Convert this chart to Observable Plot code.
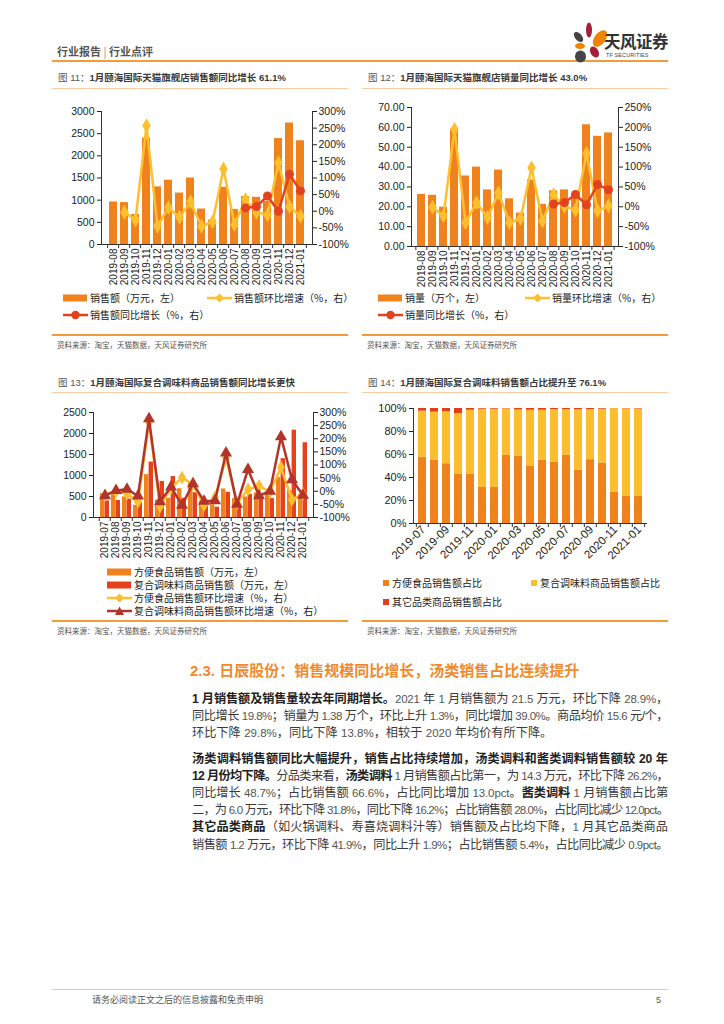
<!DOCTYPE html>
<html><head><meta charset="utf-8">
<script src="https://cdn.jsdelivr.net/npm/d3@7"></script>
<script src="https://cdn.jsdelivr.net/npm/@observablehq/plot@0.6"></script>
<style>
body{margin:0;background:#fff;}
#page{position:relative;width:724px;height:1024px;overflow:hidden;font-family:"Liberation Sans",Arial,"Noto Sans CJK SC",sans-serif;color:#333;}
.ln{position:absolute;left:192px;width:476px;height:17px;line-height:17px;font-size:12.2px;color:#3a3a3a;white-space:nowrap;text-align:justify;text-align-last:justify;font-family:"Liberation Sans","Noto Sans CJK SC",sans-serif;}
.ln.last{text-align-last:left;}
.ln b{color:#222;}
.ln .n{font-size:11.5px;color:#555;}
</style></head><body><div id="page"></div>
<script>
// ---------- DATA ----------
const months11 = ["2019-08","2019-09","2019-10","2019-11","2019-12","2020-01","2020-02","2020-03","2020-04","2020-05","2020-06","2020-07","2020-08","2020-09","2020-10","2020-11","2020-12","2021-01"];
const sales11 = [960, 945, 675, 2400, 1300, 1450, 1160, 1500, 800, 550, 1290, 790, 1080, 1065, 975, 2390, 2740, 2340];
const salesMoM11 = [null, -3, -26, 257, -45, 11, -18, 28, -45, -32, 127, -40, 35, -3, -11, 146, 14, -15];
const salesYoY11 = [null, null, null, null, null, null, null, null, null, null, null, null, 10, 14, 46, 0, 111, 61.1];

const months12 = months11;
const qty12 = [26.2, 25.8, 19.8, 59.0, 35.5, 40.0, 28.5, 38.5, 24.0, 16.8, 33.5, 21.2, 28.0, 28.5, 26.0, 61.3, 55.5, 57.2];
const qtyMoM12 = [null, -1, -23, 195, -40, 10, -27, 35, -40, -30, 98, -36, 30, 1, -8, 134, -10, 2];
const qtyYoY12 = [null, null, null, null, null, null, null, null, null, null, null, null, 7, 10.5, 31, 5, 56, 43.0];

const months13 = ["2019-07","2019-08","2019-09","2019-10","2019-11","2019-12","2020-01","2020-02","2020-03","2020-04","2020-05","2020-06","2020-07","2020-08","2020-09","2020-10","2020-11","2020-12","2021-01"];
const conv13 = [570, 545, 490, 290, 1020, 415, 455, 685, 850, 390, 300, 680, 450, 490, 590, 540, 950, 640, 550];
const comp13 = [395, 405, 440, 360, 1320, 860, 975, 460, 590, 365, 245, 600, 300, 550, 460, 450, 1400, 2080, 1780];
const convMoM13 = [-15, 0, -10, -40, 264, -58, 12, 52, 26, -53, -24, 127, -45, 7, 20, -2, 91, -32, -10];
const compMoM13 = [-17, 3, 8, -18, 276, -40, 16, -53, 29, -38, -36, 146, -50, 83, -17, 0, 208, 44, -15];

const months14 = months13;
const convShare14 = [57.6, 55.2, 52.0, 43.0, 43.0, 31.4, 31.4, 59.3, 58.4, 50.0, 55.2, 53.2, 59.3, 46.5, 55.5, 52.6, 27.3, 23.5, 23.5];
const compShare14 = [40.1, 41.6, 45.1, 52.6, 55.5, 68.0, 68.0, 40.4, 40.4, 48.5, 43.3, 45.9, 39.8, 52.6, 43.6, 46.8, 72.6, 76.2, 76.1];
const otherShare14 = [2.3, 3.2, 2.9, 4.4, 1.5, 0.6, 0.6, 0.3, 1.2, 1.5, 1.5, 0.9, 0.9, 0.9, 0.9, 0.6, 0.1, 0.3, 0.4];
const series14 = ["方便食品销售额占比", "复合调味料商品销售额占比", "其它品类商品销售额占比"];

const ticksL11 = [0, 500, 1000, 1500, 2000, 2500, 3000];
const ticksR11 = [-100, -50, 0, 50, 100, 150, 200, 250, 300];
const ticksL12 = [0, 10, 20, 30, 40, 50, 60, 70];
const ticksR12 = [-100, -50, 0, 50, 100, 150, 200, 250];
const ticksL13 = [0, 500, 1000, 1500, 2000, 2500];
const ticksR13 = [-100, -50, 0, 50, 100, 150, 200, 250, 300];
const ticks14 = [0, 20, 40, 60, 80, 100];

// ---------- STYLE ----------
const FONT = '"Liberation Sans", Arial, "Noto Sans CJK SC", sans-serif';
const ORANGE = "#F0821E", YELLOW = "#FDBF2D", RED = "#E2431E", DARKRED = "#B3342A", RED13 = "#E5421B", AX = "#333";
const C14 = [ORANGE, "#FCBE2E", "#E23E1C"];

const page = document.getElementById("page");
function el(css, html){ const e=document.createElement("div"); e.style.cssText="position:absolute;"+css; if(html!=null) e.innerHTML=html; page.appendChild(e); return e; }
function common(g){
  return {width:g.w, height:g.h, marginLeft:g.ml, marginRight:g.mr, marginTop:g.mt, marginBottom:g.mb,
    style:{fontFamily:FONT, fontSize:"10px", color:"#222", background:"transparent", overflow:"visible"}};
}
function xs(g, months, hide){ const o = {type:"band", domain:months, paddingInner:g.pi, paddingOuter:g.po}; if (hide) o.axis = null; return o; }
function step(g, n){ return (g.w-g.ml-g.mr)/(n - g.pi + 2*g.po); }
function boundaryTicks(months, g, ydom){
  const n = months.length, s = step(g, n);
  const t = (ydom[1]-ydom[0])*4/(g.h-g.mt-g.mb);
  return [
    Plot.ruleX(months, {x:d=>d, y1:ydom[0], y2:ydom[0]-t, dx:-s/2, stroke:AX}),
    Plot.ruleX([months[n-1]], {x:d=>d, y1:ydom[0], y2:ydom[0]-t, dx:s/2, stroke:AX})
  ];
}
function mount(g, svgs){
  const box = el(`left:${g.left}px;top:${g.top}px;width:${g.w}px;height:${g.h}px;`);
  for (const s of svgs){ s.style.position="absolute"; s.style.left="0"; s.style.top="0"; box.appendChild(s); }
}
const intFmt = d3.format("d");

// ---------- PAGE FRAME ----------
el("left:57px;top:43px;font-size:11px;font-weight:bold;color:#555;font-family:'Noto Sans CJK SC';line-height:16px;", '行业报告 <span style="font-weight:normal;color:#888">|</span> 行业点评');
el("left:52px;top:60px;width:616px;height:2px;background:#F39A3B;");
el("left:568px;top:18px;width:44px;height:46px;", `<svg width="44" height="46" viewBox="568 18 44 46">
<ellipse cx="589" cy="30" rx="3" ry="7.5" fill="#A61E37"/>
<ellipse cx="600" cy="38.5" rx="5.5" ry="9.5" fill="#F08300" transform="rotate(38 600 38.5)"/>
<ellipse cx="578.5" cy="37" rx="3.5" ry="6" fill="#444" transform="rotate(-40 578.5 37)"/>
<ellipse cx="580" cy="46" rx="5" ry="3" fill="#F08300"/>
<ellipse cx="594.5" cy="52" rx="4" ry="6" fill="#A61E37" transform="rotate(-30 594.5 52)"/>
<ellipse cx="580.5" cy="56.5" rx="5.5" ry="6" fill="#444"/></svg>`);
el("left:604px;top:30px;font-size:16.5px;font-weight:bold;color:#333;font-family:'Noto Sans CJK SC';line-height:22px;letter-spacing:-0.5px;", "天风证券");
el("left:606px;top:52px;font-size:5.5px;color:#444;line-height:7px;letter-spacing:0.1px;", "TF SECURITIES");

function panel(x, w, titleY, lineY, bottomY, title){
  el(`left:${x+6}px;top:${titleY-7}px;font-size:9.5px;font-weight:bold;color:#3a3a3a;line-height:14px;white-space:nowrap;font-family:'Liberation Sans','Noto Sans CJK SC';`, title);
  el(`left:${x}px;top:${lineY}px;width:${w}px;height:1px;background:#F8CBA0;`);
  el(`left:${x}px;top:${bottomY}px;width:${w}px;height:1.5px;background:#F39A3B;`);
  el(`left:${x+5}px;top:${bottomY+6}px;font-size:7.5px;color:#555;line-height:10px;white-space:nowrap;font-family:'Noto Sans CJK SC';`, "资料来源：淘宝，天猫数据，天风证券研究所");
}
panel(52, 296, 78, 88, 334, '<span style="font-weight:normal;color:#555">图 11：</span>1月颐海国际天猫旗舰店销售额同比增长 61.1%');
panel(362, 306, 78, 88, 334, '<span style="font-weight:normal;color:#555">图 12：</span>1月颐海国际天猫旗舰店销量同比增长 43.0%');
panel(52, 296, 383, 392, 620, '<span style="font-weight:normal;color:#555">图 13：</span>1月颐海国际复合调味料商品销售额同比增长更快');
panel(362, 306, 383, 392, 620, '<span style="font-weight:normal;color:#555">图 14：</span>1月颐海国际复合调味料销售额占比提升至 76.1%');

function swatch(type, color){
  if (type==="bar") return `<svg width="25" height="10" style="vertical-align:-1px"><rect x="0" y="1.5" width="24" height="7" fill="${color}"/></svg>`;
  if (type==="sq") return `<svg width="8" height="10" style="vertical-align:-1px"><rect x="0" y="2" width="6" height="6" fill="${color}"/></svg>`;
  let m = "";
  if (type==="diamond") m = `<path d="M12.5 0.5 L17 5 L12.5 9.5 L8 5Z" fill="${color}"/>`;
  if (type==="circle") m = `<circle cx="12.5" cy="5" r="4.2" fill="${color}"/>`;
  if (type==="tri") m = `<path d="M12.5 0.5 L17 9 L8 9Z" fill="${color}"/>`;
  return `<svg width="25" height="10" style="vertical-align:-1px"><line x1="0" x2="25" y1="5" y2="5" stroke="${color}" stroke-width="2.5"/>${m}</svg>`;
}
function legend(x, y, type, color, text, gap){
  el(`left:${x}px;top:${y-6}px;font-size:10px;color:#222;white-space:nowrap;line-height:12px;font-family:'Noto Sans CJK SC';`,
     `${swatch(type,color)}<span style="margin-left:${gap ?? 2}px">${text}</span>`);
}

// ---------- CHART 11 ----------
{
  const g = {left:52, top:100, w:296, h:196, ml:49, mr:36, mt:11, mb:52, pi:0.3, po:0.15};
  const d = months11.map((m,i)=>({m, v:sales11[i], mom:salesMoM11[i], yoy:salesYoY11[i]}));
  const L = Plot.plot({...common(g), x:xs(g, months11), y:{domain:[0,3000]},
    marks:[
      Plot.barY(d, {x:"m", y:"v", fill:ORANGE}),
      Plot.ruleY([0], {stroke:AX}),
      Plot.frame({anchor:"left", stroke:AX}),
      Plot.axisY({ticks:ticksL11, tickFormat:intFmt, label:null, tickSize:4, tickPadding:3, fontSize:10.5}),
      Plot.axisX({tickRotate:-90, label:null, tickSize:0, tickPadding:4, fontSize:10}),
      ...boundaryTicks(months11, g, [0,3000])
    ]});
  const R = Plot.plot({...common(g), x:xs(g, months11, true), y:{domain:[-100,300]},
    marks:[
      Plot.frame({anchor:"right", stroke:AX}),
      Plot.axisY({anchor:"right", ticks:ticksR11, tickFormat:v=>v+"%", label:null, tickSize:4, tickPadding:2, fontSize:10.5}),
      Plot.line(d, {x:"m", y:"mom", stroke:YELLOW, strokeWidth:2.5}),
      Plot.dot(d, {x:"m", y:"mom", symbol:"diamond", fill:YELLOW, r:4.5}),
      Plot.line(d, {x:"m", y:"yoy", stroke:RED, strokeWidth:2.5}),
      Plot.dot(d, {x:"m", y:"yoy", fill:RED, r:4.5})
    ]});
  mount(g, [L, R]);
  legend(63, 298, "bar", ORANGE, "销售额（万元，左）");
  legend(207, 298, "diamond", YELLOW, "销售额环比增速（%，右）");
  legend(63, 315, "circle", RED, "销售额同比增长（%，右）");
}

// ---------- CHART 12 ----------
{
  const g = {left:362, top:100, w:306, h:196, ml:49, mr:50, mt:7, mb:50, pi:0.3, po:0.3};
  const d = months12.map((m,i)=>({m, v:qty12[i], mom:qtyMoM12[i], yoy:qtyYoY12[i]}));
  const L = Plot.plot({...common(g), x:xs(g, months12), y:{domain:[0,70]},
    marks:[
      Plot.barY(d, {x:"m", y:"v", fill:ORANGE}),
      Plot.ruleY([0], {stroke:AX}),
      Plot.frame({anchor:"left", stroke:AX}),
      Plot.axisY({ticks:ticksL12, tickFormat:d3.format(".2f"), label:null, tickSize:4, tickPadding:3, fontSize:10.5}),
      Plot.axisX({tickRotate:-90, label:null, tickSize:0, tickPadding:4, fontSize:10}),
      ...boundaryTicks(months12, g, [0,70])
    ]});
  const R = Plot.plot({...common(g), x:xs(g, months12, true), y:{domain:[-100,250]},
    marks:[
      Plot.frame({anchor:"right", stroke:AX}),
      Plot.axisY({anchor:"right", ticks:ticksR12, tickFormat:v=>v+"%", label:null, tickSize:4, tickPadding:2, fontSize:10.5}),
      Plot.line(d, {x:"m", y:"mom", stroke:YELLOW, strokeWidth:2.5}),
      Plot.dot(d, {x:"m", y:"mom", symbol:"diamond", fill:YELLOW, r:4.5}),
      Plot.line(d, {x:"m", y:"yoy", stroke:RED, strokeWidth:2.5}),
      Plot.dot(d, {x:"m", y:"yoy", fill:RED, r:4.5})
    ]});
  mount(g, [L, R]);
  legend(378, 298, "bar", ORANGE, "销量（万个，左）");
  legend(525, 298, "diamond", YELLOW, "销量环比增速（%，右）");
  legend(378, 315, "circle", RED, "销量同比增长（%，右）");
}

// ---------- CHART 13 ----------
{
  const g = {left:52, top:400, w:296, h:165, ml:41, mr:35, mt:12, mb:48, pi:0.2, po:0.18};
  const bw = step(g, months13.length)*(1-g.pi);
  const d = months13.map((m,i)=>({m, conv:conv13[i], comp:comp13[i], cm:convMoM13[i], pm:compMoM13[i]}));
  const L = Plot.plot({...common(g), x:xs(g, months13), y:{domain:[0,2500]},
    marks:[
      Plot.barY(d, {x:"m", y:"conv", fill:ORANGE, insetRight:bw/2}),
      Plot.barY(d, {x:"m", y:"comp", fill:RED13, insetLeft:bw/2}),
      Plot.ruleY([0], {stroke:AX}),
      Plot.frame({anchor:"left", stroke:AX}),
      Plot.axisY({ticks:ticksL13, tickFormat:intFmt, label:null, tickSize:4, tickPadding:3, fontSize:10.5}),
      Plot.axisX({tickRotate:-90, label:null, tickSize:0, tickPadding:4, fontSize:10}),
      ...boundaryTicks(months13, g, [0,2500])
    ]});
  const R = Plot.plot({...common(g), x:xs(g, months13, true), y:{domain:[-100,300]},
    marks:[
      Plot.frame({anchor:"right", stroke:AX}),
      Plot.axisY({anchor:"right", ticks:ticksR13, tickFormat:v=>v+"%", label:null, tickSize:4, tickPadding:2, fontSize:10.5}),
      Plot.line(d, {x:"m", y:"cm", stroke:YELLOW, strokeWidth:2.5}),
      Plot.dot(d, {x:"m", y:"cm", symbol:"diamond", fill:YELLOW, r:4.2}),
      Plot.line(d, {x:"m", y:"pm", stroke:DARKRED, strokeWidth:2.5}),
      Plot.dot(d, {x:"m", y:"pm", symbol:"triangle", fill:DARKRED, r:4.5})
    ]});
  mount(g, [L, R]);
  legend(107, 572, "bar", ORANGE, "方便食品销售额（万元，左）");
  legend(107, 585, "bar", RED13, "复合调味料商品销售额（万元，左）");
  legend(107, 598, "diamond", YELLOW, "方便食品销售额环比增速（%，右）");
  legend(107, 611, "tri", DARKRED, "复合调味料商品销售额环比增速（%，右）");
}

// ---------- CHART 14 ----------
{
  const g = {left:362, top:400, w:306, h:170, ml:51, mr:21, mt:8, mb:47, pi:0.33, po:0.165};
  const shares = [convShare14, compShare14, otherShare14];
  const d = series14.flatMap((s,k)=>months14.map((m,i)=>({m, s, v:shares[k][i]})));
  const P = Plot.plot({...common(g), x:xs(g, months14), y:{domain:[0,100]},
    color:{domain:series14, range:C14},
    marks:[
      Plot.barY(d, {x:"m", y:"v", fill:"s", order:series14}),
      Plot.ruleY([0], {stroke:AX}),
      Plot.frame({anchor:"left", stroke:AX}),
      Plot.axisY({ticks:ticks14, tickFormat:v=>v+"%", label:null, tickSize:4, tickPadding:3, fontSize:11}),
      Plot.axisX({ticks:months14.filter((_,i)=>i%2===0), label:null, tickRotate:-45, tickSize:0, tickPadding:4, dx:1, fontSize:11.5}),
      ...boundaryTicks(months14, g, [0,100])
    ]});
  mount(g, [P]);
  legend(383, 583, "sq", C14[0], series14[0], 1);
  legend(531, 583, "sq", C14[1], series14[1], 1);
  legend(383, 602, "sq", C14[2], series14[2], 1);
}

// ---------- TEXT ----------
el("left:190px;top:661px;font-size:15px;font-weight:bold;color:#F08A2C;line-height:20px;white-space:nowrap;font-family:'Liberation Sans','Noto Sans CJK SC';", "2.3. 日辰股份：销售规模同比增长，汤类销售占比连续提升");
const lines = [
  [699, false, "<b>1 月销售额及销售量较去年同期增长。</b>2021 年 1 月销售额为 21.5 万元，环比下降 28.9%，"],
  [716, false, "同比增长 19.8%；销量为 1.38 万个，环比上升 1.3%，同比增加 39.0%。商品均价 15.6 元/个，"],
  [733, true,  "环比下降 29.8%，同比下降 13.8%，相较于 2020 年均价有所下降。"],
  [759, false, "<b>汤类调料销售额同比大幅提升，销售占比持续增加，汤类调料和酱类调料销售额较 20 年</b>"],
  [776.5, false, "<b>12 月份均下降。</b>分品类来看，<b>汤类调料</b> 1 月销售额占比第一，为 14.3 万元，环比下降 26.2%，"],
  [793.5, false, "同比增长 48.7%；占比销售额 66.6%，占比同比增加 13.0pct。<b>酱类调料</b> 1 月销售额占比第"],
  [810.5, false, "二，为 6.0 万元，环比下降 31.8%，同比下降 16.2%；占比销售额 28.0%，占比同比减少 12.0pct。"],
  [827.5, false, "<b>其它品类商品</b>（如火锅调料、寿喜烧调料汁等）销售额及占比均下降，1 月其它品类商品"],
  [845, false, "销售额 1.2 万元，环比下降 41.9%，同比上升 1.9%；占比销售额 5.4%，占比同比减少 0.9pct。"]
];
for (const [y, last, html] of lines){
  const parts = html.split(/(<b>.*?<\/b>)/);
  const h = parts.map(p => p.startsWith("<b>") ? p : p.replace(/([0-9][0-9.]*%?(?:pct)?)/g, '<span class="n">$1</span>')).join("");
  const e = el(`top:${y-8.5}px;`, `<span class="inner">${h}</span>`);
  e.className = "ln" + (last ? " last" : "");
  const inner = e.querySelector(".inner");
  const w = inner.getBoundingClientRect().width;
  const n = inner.textContent.length;
  if (w > 474) e.style.letterSpacing = ((474 - w) / n).toFixed(3) + "px";
}

// ---------- FOOTER ----------
el("left:52px;top:989px;width:616px;height:1px;background:#F8C490;");
el("left:92px;top:994px;font-size:9px;color:#555;line-height:12px;font-family:'Noto Sans CJK SC';", "请务必阅读正文之后的信息披露和免责申明");
el("left:656px;top:994px;font-size:9px;color:#555;line-height:12px;", "5");
</script></body></html>
